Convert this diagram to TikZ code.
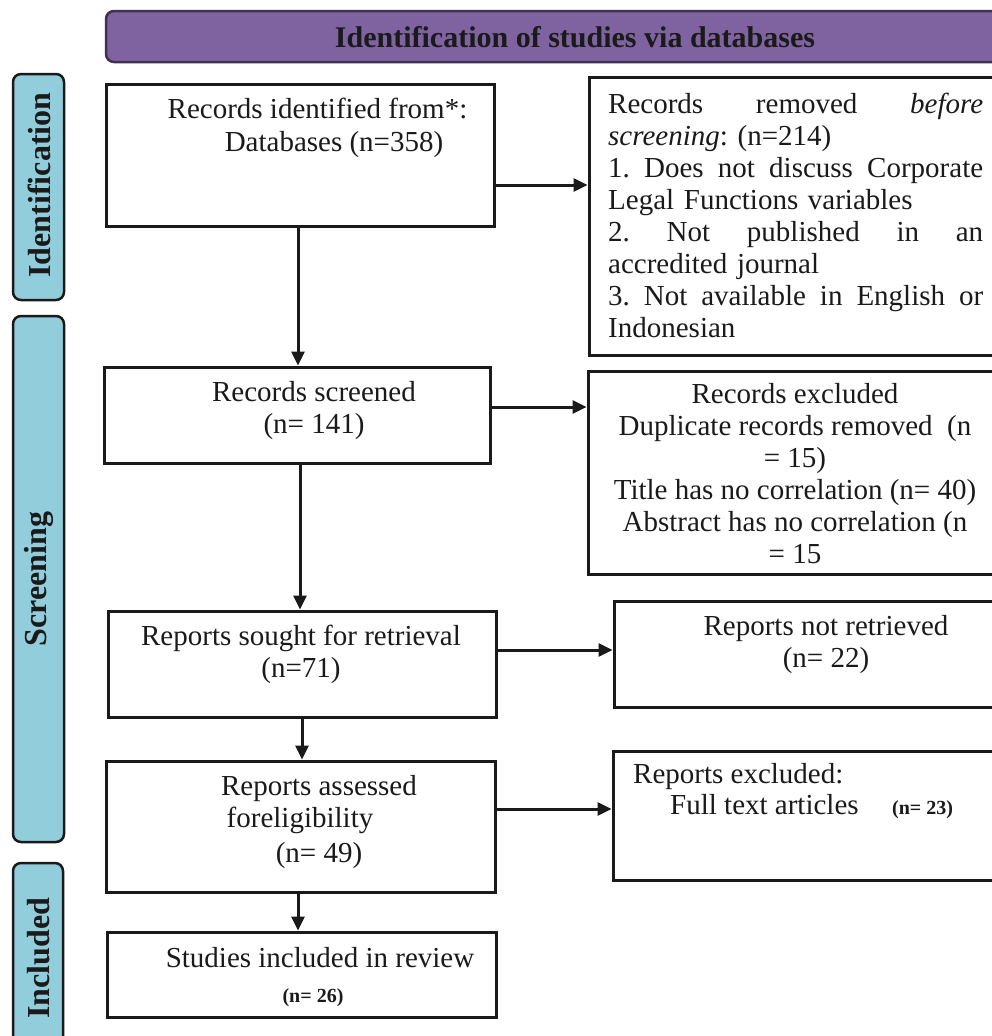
\documentclass[tikz,border=0pt]{standalone}
\usepackage{fontspec}
\setmainfont{Liberation Serif}
\usetikzlibrary{arrows.meta}
\definecolor{barpurple}{HTML}{7F63A1}
\definecolor{barpurpleedge}{HTML}{3E3152}
\definecolor{barblue}{HTML}{92CDDC}
\definecolor{inkc}{HTML}{1A1A1A}
\tikzset{
  boxc/.style={draw=inkc, line width=3pt, fill=white, inner sep=0pt},
  phase/.style={draw=inkc, line width=2.5pt, fill=barblue, rounded corners=8pt, inner sep=0pt},
  phasetext/.style={font=\fontsize{32}{36}\selectfont\bfseries, text=inkc, rotate=90},
  txt/.style={font=\fontsize{29}{32}\selectfont\frenchspacing, text=inkc, inner sep=0pt},
  bsmall/.style={font=\fontsize{20}{24}\selectfont\bfseries, text=inkc, inner sep=0pt},
  arr/.style={draw=inkc, line width=3pt, -{Triangle[length=14pt,width=13pt]}},
}
\newcommand{\jline}[1]{\leavevmode\hbox to 375pt{#1}}
\begin{document}
\frenchspacing
\begin{tikzpicture}[x=1pt,y=-1pt]
\useasboundingbox (0,0) rectangle (992,1036);
% title bar
\node[draw=barpurpleedge, line width=2.5pt, fill=barpurple, rounded corners=8pt,
      minimum width=938pt, minimum height=51pt, inner sep=0pt] (title) at (575,36.5) {};
\node[font=\fontsize{30}{34}\selectfont\bfseries, text=inkc, anchor=base, inner sep=0pt] (titlet) at (575,47) {Identification of studies via databases};
% phase bars
\node[phase, minimum width=51pt, minimum height=226pt] (p1) at (38.5,187) {};
\node[phasetext] (p1t) at (39,185) {Identification};
\node[phase, minimum width=51pt, minimum height=526pt] (p2) at (38.5,579) {};
\node[phasetext] (p2t) at (39,579) {Screening};
\node[phase, minimum width=50pt, minimum height=190pt] (p3) at (38,958) {};
\node[phasetext] (p3t) at (39,958) {Included};
% boxes
\node[boxc, minimum width=388pt, minimum height=142pt] (A) at (300,155) {};
\node[boxc, minimum width=411pt, minimum height=278pt] (R1) at (794.5,216) {};
\node[boxc, minimum width=386pt, minimum height=96pt] (B) at (297,415) {};
\node[boxc, minimum width=412pt, minimum height=203pt] (R2) at (794,472.5) {};
\node[boxc, minimum width=388pt, minimum height=106pt] (C) at (302,664) {};
\node[boxc, minimum width=386pt, minimum height=106pt] (R3) at (807,654) {};
\node[boxc, minimum width=389pt, minimum height=131pt] (D) at (300.5,826.5) {};
\node[boxc, minimum width=387pt, minimum height=129pt] (R4) at (806.5,815.5) {};
\node[boxc, minimum width=389pt, minimum height=85pt] (E) at (301.5,974.5) {};
% texts
\node[txt, anchor=base] (At1) at (317.5,118) {Records identified from*:};
\node[txt, anchor=base] (At2) at (334,151) {Databases (n=358)};
\node[txt, anchor=base west, text width=375pt, align=left] (R1t) at (608,113) {%
\jline{Records\hfill removed\hfill \textit{before}}\\
\textit{screening}: (n=214)\\
\jline{1.\hfill Does\hfill not\hfill discuss\hfill Corporate}\\
Legal Functions variables\\
\jline{2.\hfill Not\hfill published\hfill in\hfill an}\\
accredited journal\\
\jline{3.\hfill Not\hfill available\hfill in\hfill English\hfill or}\\
Indonesian};
\node[txt, anchor=base, align=center] (Bt) at (314,433) {Records screened\\(n= 141)};
\begin{scope}
\clip (588,371) rectangle (1000,566);
\node[txt, anchor=base, align=center] (R2t) at (795,563) {Records excluded\\Duplicate records removed\ \ (n\\= 15)\\Title has no correlation (n= 40)\\Abstract has no correlation (n\\= 15};
\end{scope}
\node[txt, anchor=base, align=center] (Ct) at (301,677) {Reports sought for retrieval\\(n=71)};
\node[txt, anchor=base, align=center] (R3t) at (826,667) {Reports not retrieved\\(n= 22)};
\node[txt, anchor=base] (Dt1) at (319,795) {Reports assessed};
\node[txt, anchor=base] (Dt2) at (300,827) {foreligibility};
\node[txt, anchor=base] (Dt3) at (319,862) {(n= 49)};
\node[txt, anchor=base west] (R4t1) at (633,783) {Reports excluded:};
\node[txt, anchor=base west] (R4t2) at (670,814) {Full text articles};
\node[bsmall, anchor=base west] (R4t3) at (892,814) {(n= 23)};
\node[txt, anchor=base] (Et1) at (320,967) {Studies included in review};
\node[bsmall, anchor=base] (Et2) at (313,1002) {(n= 26)};
% connectors
\path (A.east) ++(0,30) coordinate (a1);
\draw[arr] (a1) -- (a1 -| R1.west);
\path (A.south) ++(-2,0) coordinate (a2);
\draw[arr] (a2) -- (a2 |- B.north);
\path (B.east) ++(0,-8) coordinate (b1);
\draw[arr] (b1) -- (b1 -| R2.west);
\path (B.south) ++(3,0) coordinate (b2);
\draw[arr] (b2) -- (b2 |- C.north);
\path (C.east) ++(0,-14) coordinate (c1);
\draw[arr] (c1) -- (c1 -| R3.west);
\path (C.south) ++(0,0) coordinate (c2);
\draw[arr] (c2) -- (c2 |- D.north);
\path (D.east) ++(0,-17.5) coordinate (d1);
\draw[arr] (d1) -- (d1 -| R4.west);
\path (D.south) ++(-2.5,0) coordinate (d2);
\draw[arr] (d2) -- (d2 |- E.north);
\end{tikzpicture}
\end{document}
